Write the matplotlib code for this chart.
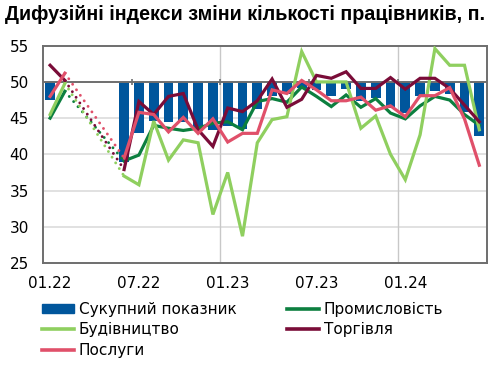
import numpy as np
import matplotlib
matplotlib.use("Agg")
import matplotlib.pyplot as plt
from matplotlib.patches import Patch
from matplotlib.lines import Line2D

nan = np.nan
# months 01.22 .. 06.24 (30 months); 03.22-05.22 missing
month_labels = ['01.22', '07.22', '01.23', '07.23', '01.24']
label_idx = [0, 6, 12, 18, 24]

total = [47.5, nan, nan, nan, nan, 38.9, 43.0, 44.6, 44.4, 44.4, 43.7, 43.3, 43.9, 43.5, 46.2,
         48.0, 48.4, 49.2, 48.9, 48.0, 49.0, 47.4, 47.8, 46.4, 45.7, 48.0, 48.8, 48.4, 45.8, 42.6]
industry = [45.0, 48.7, nan, nan, nan, 39.1, 39.9, 44.0, 43.6, 43.3, 43.6, 44.3, 44.5, 43.4, 47.3,
            47.7, 47.2, 49.3, 48.0, 46.6, 48.2, 46.5, 47.7, 45.7, 44.9, 46.7, 48.0, 47.5, 45.5, 44.0]
construction = [45.5, 49.8, nan, nan, nan, 37.0, 35.8, 44.6, 39.2, 42.0, 41.6, 31.7, 37.5, 28.7, 41.6,
                44.8, 45.2, 54.2, 50.0, 50.0, 50.0, 43.6, 45.3, 40.0, 36.5, 42.7, 54.6, 52.3, 52.3, 43.4]
trade = [52.3, 50.2, nan, nan, nan, 37.9, 47.3, 45.5, 48.0, 48.4, 43.4, 41.1, 46.4, 45.9, 47.4,
         50.4, 46.5, 47.6, 50.9, 50.5, 51.4, 49.1, 49.1, 50.6, 49.0, 50.5, 50.5, 49.1, 46.8, 44.5]
services = [48.0, 51.2, nan, nan, nan, 39.5, 45.8, 45.5, 43.1, 45.1, 42.9, 44.9, 41.7, 42.9, 42.9,
            48.9, 48.4, 50.2, 48.9, 47.4, 47.4, 47.9, 46.1, 46.7, 45.2, 48.1, 48.1, 49.2, 44.9, 38.5]

names = ['Сукупний показник', 'Промисловість', 'Будівництво', 'Торгівля', 'Послуги']
c_bar = '#00569c'
c_ind = '#0c7f3f'
c_con = '#8fcf5f'
c_tra = '#7a0c38'
c_ser = '#e0506a'

plt.rcParams['font.family'] = ['DejaVu Sans']

W, H = 490, 368
fig = plt.figure(figsize=(W / 100, H / 100), dpi=100)
x0, x1, ytop, ybot = 42.7, 486.7, 45.7, 263.0
ax = fig.add_axes([x0 / W, 1 - ybot / H, (x1 - x0) / W, (ybot - ytop) / H])

n = len(total)
x = np.arange(n)
base = 50
tot = np.array(total)
ax.bar(x, tot - base, bottom=base, width=0.66, color=c_bar, zorder=2)

lw = 2.3
series = [(industry, c_ind), (construction, c_con), (trade, c_tra), (services, c_ser)]
for s, c in series:
    s = np.array(s)
    ax.plot(x, s, color=c, lw=lw, zorder=4, solid_joinstyle='miter')
for s, c in series:
    s = np.array(s)
    ax.plot([x[1], x[5]], [s[1], s[5]], color=c, lw=2.1, linestyle=(0, (0.01, 2.3)),
            dash_capstyle='round', zorder=4)

ax.set_xlim(-0.5, n - 0.5)
ax.set_ylim(25, 55)
ax.set_yticks(np.arange(25, 56, 5))
ax.set_xticks(label_idx)
ax.set_xticklabels(month_labels)
ax.tick_params(axis='both', length=0, labelsize=11, colors='black')
ax.tick_params(axis='y', pad=10)
ax.tick_params(axis='x', pad=9)

grid_c = '#d9d9d9'
for yv in [30, 35, 40, 45]:
    ax.axhline(yv, color=grid_c, lw=1.1, zorder=1)
for xv in np.arange(11.5, n, 12):
    ax.axvline(xv, color='#c8c8c8', lw=1.0, zorder=1)

axis_c = '#6e6e6e'
ax.axhline(base, color=axis_c, lw=1.4, zorder=3)
ax.vlines(np.arange(5.5, n - 1, 6), base - 0.45, base + 0.45, color=axis_c, lw=1.2, zorder=3)

for sp in ax.spines.values():
    sp.set_color(axis_c)
    sp.set_linewidth(1.4)

fig.text(5 / W, 1 - 14 / H, 'Дифузійні індекси зміни кількості працівників, п.',
         fontsize=14.2, fontweight='bold', family=['Liberation Sans', 'DejaVu Sans'],
         ha='left', va='center')

handles = [Patch(color=c_bar, label=names[0]),
           Line2D([], [], color=c_con, lw=2.6, label=names[2]),
           Line2D([], [], color=c_ser, lw=2.6, label=names[4]),
           Line2D([], [], color=c_ind, lw=2.6, label=names[1]),
           Line2D([], [], color=c_tra, lw=2.6, label=names[3])]
fig.legend(handles=handles, loc='upper left', bbox_to_anchor=(42 / W, 1 - 302 / H),
           ncol=2, frameon=False, fontsize=11, borderpad=0, borderaxespad=0,
           handlelength=2.1, handleheight=0.55, handletextpad=0.3, columnspacing=3.3,
           labelspacing=0.35)

fig.savefig('out.png', dpi=100)
